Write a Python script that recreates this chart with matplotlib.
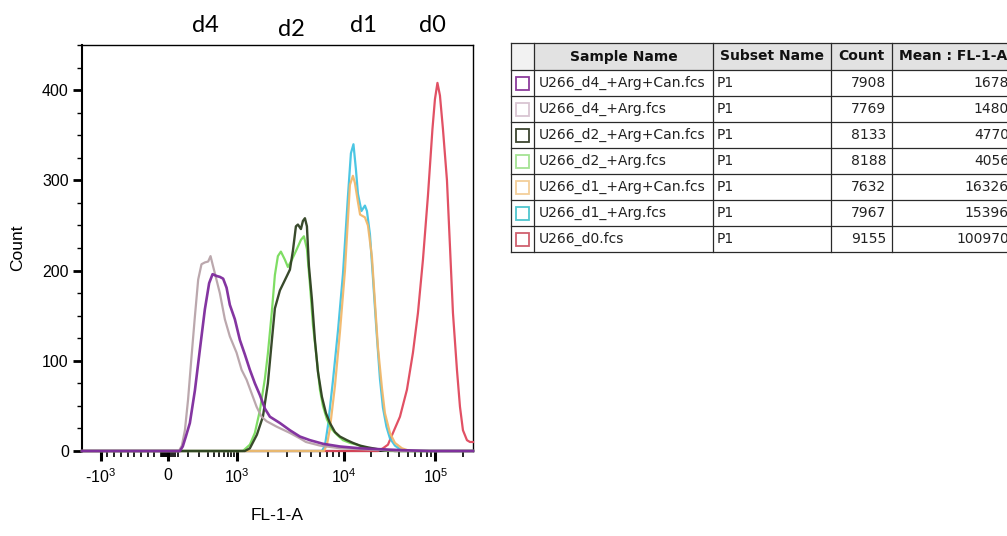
import numpy as np
import matplotlib
matplotlib.use("Agg")
import matplotlib.pyplot as plt
from matplotlib.patches import Rectangle

# ---- histogram data (FL-1-A value, count) ----
d4_can_x = [-1280, 52, 68, 87, 115, 156, 204, 262, 320, 373, 443, 509, 583, 669, 762, 926,
            1071, 1198, 1340, 1497, 1672, 1865, 2080, 2582, 3200, 3960, 4893, 6438, 9199,
            14980, 24790, 40990, 87000, 256000]
d4_can_y = [0, 0, 5, 16, 31, 67, 112, 157, 186, 196, 194, 193, 191, 181, 162, 146,
            123, 107, 90, 75, 62, 47, 38, 31, 23, 16, 12, 8, 5,
            3, 2, 1, 0, 0]

d4_arg_x = [-1280, 47, 63, 81, 102, 128, 156, 187, 222, 262, 306, 341, 373, 412, 509, 625,
            762, 988, 1113, 1245, 1392, 1555, 1735, 1936, 2404, 3200, 3960, 4496, 6043,
            9199, 14980, 24790, 40990, 256000]
d4_arg_y = [0, 0, 6, 23, 57, 105, 149, 190, 207, 209, 210, 216, 207, 197, 175, 146,
            127, 109, 90, 79, 64, 49, 38, 33, 27, 20, 14, 10, 6,
            3, 2, 1, 0, 0]

d2_can_x = [-1280, 1198, 1340, 1565, 1786, 1991, 2172, 2317, 2582, 3000, 3200, 3411, 3636,
            3794, 4044, 4220, 4403, 4593, 4791, 5105, 5438, 5793, 6303, 6857, 7457, 8283,
            9199, 10790, 12550, 14980, 18320, 23570, 36140, 256000]
d2_can_y = [0, 0, 3, 18, 38, 75, 123, 158, 178, 194, 201, 222, 249,
            251, 246, 255, 258, 249, 205, 168, 123, 88, 60, 42, 31, 21,
            16, 12, 9, 6, 4, 2, 0, 0]

d2_arg_x = [-1280, 1146, 1340, 1497, 1672, 1865, 1991, 2172, 2317, 2472, 2637, 2874, 3065,
            3339, 3714, 4044, 4310, 4593, 4893, 5214, 5674, 6043, 6438, 7003, 7778, 8639,
            9795, 11640, 13890, 16990, 21860, 31880, 256000]
d2_arg_y = [0, 0, 7, 20, 45, 80, 108, 155, 195, 216, 221, 212, 204,
            212, 224, 234, 238, 224, 185, 140, 100, 68, 50, 35, 24, 18,
            12, 9, 7, 4, 2, 0, 0]

d1_can_x = [-1280, 6574, 7003, 7457, 8283, 9199, 10260, 11640, 12550, 13200, 14240, 15040,
            16990, 18320, 20270, 21860, 23570, 26060, 28100, 31880, 36140, 43090, 52680, 256000]
d1_can_y = [0, 0, 7, 25, 72, 132, 200, 295, 305, 297, 276, 262,
            259, 250, 215, 165, 115, 70, 42, 20, 9, 3, 0, 0]

d1_arg_x = [-1280, 6303, 6714, 7152, 7944, 8822, 9795, 11060, 11930, 12720, 13540, 14240,
            15560, 16990, 17870, 19280, 20790, 22700, 24790, 26730, 29190, 31880, 36140,
            40990, 52680, 256000]
d1_arg_y = [0, 0, 6, 28, 78, 133, 196, 282, 330, 340, 312, 285,
            266, 272, 266, 240, 192, 134, 80, 48, 27, 14, 6,
            2, 0, 0]

d0_x = [-1280, 23570, 26730, 30310, 34370, 40990, 48860, 56800, 64390, 72990, 82740, 92660,
        98640, 105000, 111800, 120500, 133300, 143700, 154900, 171200, 184700, 199000,
        220000, 237200, 256000]
d0_y = [0, 0, 3, 7, 20, 38, 68, 109, 153, 212, 283, 357,
        390, 408, 394, 357, 300, 227, 153, 90, 49, 23,
        12, 10, 10]

# ---- table ----
sample_names = ["U266_d4_+Arg+Can.fcs", "U266_d4_+Arg.fcs", "U266_d2_+Arg+Can.fcs",
                "U266_d2_+Arg.fcs", "U266_d1_+Arg+Can.fcs", "U266_d1_+Arg.fcs", "U266_d0.fcs"]
subset_names = ["P1"] * 7
event_counts = [7908, 7769, 8133, 8188, 7632, 7967, 9155]
mean_fl1 = [1678, 1480, 4770, 4056, 16326, 15396, 100970]
header = ["", "Sample Name", "Subset Name", "Count", "Mean : FL-1-A"]

peak_labels = ["d4", "d2", "d1", "d0"]

curves = [
    (d4_can_x, d4_can_y, "#7d2a9c", 1.9),
    (d4_arg_x, d4_arg_y, "#b8a3a9", 1.6),
    (d2_can_x, d2_can_y, "#2e4020", 1.7),
    (d2_arg_x, d2_arg_y, "#78dc5c", 1.6),
    (d1_can_x, d1_can_y, "#f2b86a", 1.6),
    (d1_arg_x, d1_arg_y, "#42c3e2", 1.6),
    (d0_x, d0_y, "#e0475c", 1.6),
]
swatch_colors = ["#8c3d9c", "#d9c5d2", "#3d4530", "#a5e394", "#f3cf9a", "#4fc6cf", "#d0606e"]

# ---- biexponential-like axis (linear below zero, log-ish above) ----
T1K = np.log10(11)


def _t(x):
    x = np.asarray(x, dtype=float)
    return np.where(x >= 0, np.log10(1 + np.clip(x, 0, None) / 100), x / 1000 * T1K)


def _t_inv(t):
    t = np.asarray(t, dtype=float)
    return np.where(t >= 0, 100 * (10 ** np.clip(t, 0, 30) - 1), t / T1K * 1000)


anchor_vals = [-1000, 0, 1000, 1e4, 1e5]
anchor_pos = [101, 168, 237, 344, 435.5]
ta = _t(anchor_vals)
s_lo = (anchor_pos[1] - anchor_pos[0]) / (ta[1] - ta[0])
s_hi = (anchor_pos[-1] - anchor_pos[-2]) / (ta[-1] - ta[-2])
TA = np.concatenate([[ta[0] - 20], ta, [ta[-1] + 20]])
PA = np.concatenate([[anchor_pos[0] - 20 * s_lo], anchor_pos, [anchor_pos[-1] + 20 * s_hi]])


def fwd(x):
    return np.interp(_t(x), TA, PA)


def inv(p):
    return _t_inv(np.interp(np.asarray(p, dtype=float), PA, TA))


plt.rcParams["font.family"] = ["Liberation Sans", "DejaVu Sans"]

fig = plt.figure(figsize=(10.07, 5.36), dpi=100)
W, H = 1007, 536
ax = fig.add_axes([82 / W, 1 - 451 / H, (473 - 82) / W, (451 - 45) / H])
ax.set_xscale("function", functions=(fwd, inv))

for xs, ys, col, lw in reversed(curves):
    ax.plot(xs, ys, color=col, lw=lw, clip_on=False, zorder=3,
            solid_joinstyle="round", alpha=0.95)

ax.set_xlim(-1280, 256000)
ax.set_ylim(0, 450)

ax.set_yticks([0, 100, 200, 300, 400])
ax.set_yticks(np.arange(0, 451, 25), minor=True)
ax.set_xticks([-1000, 0, 1000, 1e4, 1e5])
ax.set_xticklabels(["-$\\mathregular{10^{3}}$", "0", "$\\mathregular{10^{3}}$",
                    "$\\mathregular{10^{4}}$", "$\\mathregular{10^{5}}$"])
minor_x = (list(range(-900, 0, 100)) + [-90, -75, -60, -45, -30, -15, 10, 20, 30, 40]
           + list(range(100, 1000, 100)) + list(range(2000, 10000, 1000))
           + list(range(20000, 100000, 10000)) + [200000])
ax.set_xticks(minor_x, minor=True)

ax.tick_params(axis="y", which="major", length=6.5, width=2, labelsize=11.5, pad=3)
ax.tick_params(axis="y", which="minor", length=3.5, width=1)
ax.tick_params(axis="x", which="major", length=7, width=2.2, labelsize=11.5, pad=5)
ax.tick_params(axis="x", which="minor", length=4, width=1.2)

for side, lw in [("left", 1.5), ("bottom", 1.5), ("top", 1.0), ("right", 1.0)]:
    ax.spines[side].set_linewidth(lw)
    ax.spines[side].set_color("black")

ax.set_xlabel("FL-1-A", fontsize=12.5, va="center")
ax.xaxis.set_label_coords(0.5, -0.158)
ax.set_ylabel("Count", fontsize=12.5, va="center")
ax.yaxis.set_label_coords(-0.164, 0.5)

# ---- overlay in figure pixels: peak labels and statistics table ----
ov = fig.add_axes([0, 0, 1, 1], zorder=-1)
ov.set_xlim(0, W)
ov.set_ylim(H, 0)
ov.axis("off")

for lab, (lx, ly) in zip(peak_labels, [(205, 26), (291, 30), (363, 26), (432, 26)]):
    ov.text(lx, ly, lab, fontsize=17, family="Lato", ha="center", va="center", color="black")

col_edges = [511, 534, 713, 831, 892, 1015]
row_edges = [43, 70, 96, 122, 148, 174, 200, 226, 252]

for i in range(len(col_edges) - 1):
    fc = "#f2f2f2" if i == 0 else "#e2e2e2"
    ov.add_patch(Rectangle((col_edges[i], row_edges[0]), col_edges[i + 1] - col_edges[i],
                           row_edges[1] - row_edges[0], facecolor=fc, edgecolor="none"))
for y in row_edges:
    ov.plot([col_edges[0], col_edges[-1]], [y, y], color="#2a2a2a", lw=0.9, clip_on=False)
for x in col_edges:
    ov.plot([x, x], [row_edges[0], row_edges[-1]], color="#2a2a2a", lw=0.9, clip_on=False)

hy = (row_edges[0] + row_edges[1]) / 2
for i, h in enumerate(header):
    if h:
        ov.text((col_edges[i] + col_edges[i + 1]) / 2, hy, h, fontsize=10, weight="bold",
                family="DejaVu Sans", ha="center", va="center", color="#111111")

for r in range(len(sample_names)):
    top, bot = row_edges[r + 1], row_edges[r + 2]
    cy = (top + bot) / 2
    ov.add_patch(Rectangle((516, cy - 6.5), 13, 13, facecolor="white",
                           edgecolor=swatch_colors[r], lw=1.3))
    kw = dict(fontsize=10, family="DejaVu Sans", va="center", color="#222222")
    ov.text(539, cy, sample_names[r], ha="left", **kw)
    ov.text(717, cy, subset_names[r], ha="left", **kw)
    ov.text(886, cy, str(event_counts[r]), ha="right", **kw)
    ov.text(1009, cy, str(mean_fl1[r]), ha="right", **kw)

fig.savefig("out.png", dpi=100)
